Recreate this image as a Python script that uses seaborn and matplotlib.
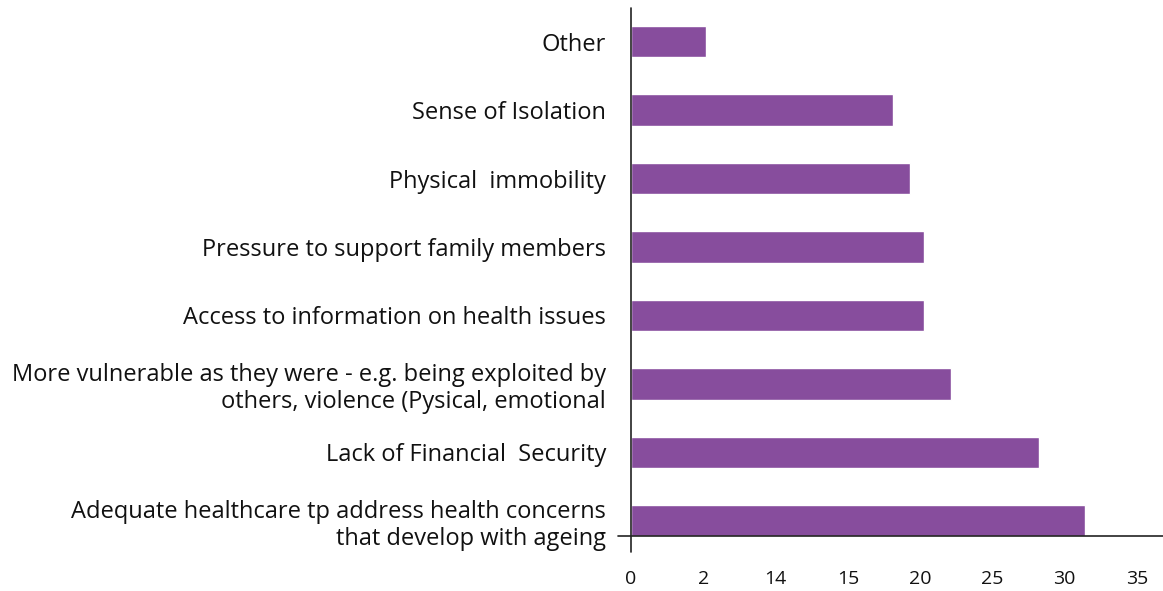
import matplotlib
matplotlib.use("Agg")
import matplotlib.pyplot as plt
import seaborn as sns
import pandas as pd

categories = [
    "Other",
    "Sense of Isolation",
    "Physical  immobility",
    "Pressure to support family members",
    "Access to information on health issues",
    "More vulnerable as they were - e.g. being exploited by\nothers, violence (Pysical, emotional",
    "Lack of Financial  Security",
    "Adequate healthcare tp address health concerns\nthat develop with ageing",
]
values = [5.2, 18.1, 19.3, 20.3, 20.3, 22.1, 28.2, 31.4]
tick_values = [0, 5, 10, 15, 20, 25, 30, 35]
tick_labels = ["0", "2", "14", "15", "20", "25", "30", "35"]

df = pd.DataFrame({"category": categories, "value": values})

sns.set_theme(style="white")
plt.rcParams["font.family"] = ["Open Sans", "DejaVu Sans"]

fig = plt.figure(figsize=(11.63, 5.91), dpi=100)
ax = fig.add_axes([0.5426, 0.0926, 0.4574, 0.894])

sns.barplot(data=df, y="category", x="value", orient="h", color="#874d9d",
            saturation=1, width=0.46, ax=ax)

ax.set_xlim(0, 36.8)
ax.set_ylim(7.228, -0.494)
ax.set_xticks(tick_values)
ax.set_xticklabels(tick_labels, fontsize=14, color="#111111")
ax.tick_params(axis="x", length=0, pad=24)
ax.tick_params(axis="y", length=0, pad=18, labelsize=17, labelcolor="#111111")
for lbl in ax.get_yticklabels():
    lbl.set_linespacing(1.2)
ax.set_xlabel("")
ax.set_ylabel("")

for s in ax.spines.values():
    s.set_visible(False)

# axis lines that cross each other, as in a spreadsheet chart
ax.plot([0, 0], [1.0, -0.03], transform=ax.transAxes, color="#222222",
        lw=1.2, clip_on=False)
ax.plot([-0.024, 1.0], [0, 0], transform=ax.transAxes, color="#222222",
        lw=1.2, clip_on=False)

fig.savefig("out.png", dpi=100)
